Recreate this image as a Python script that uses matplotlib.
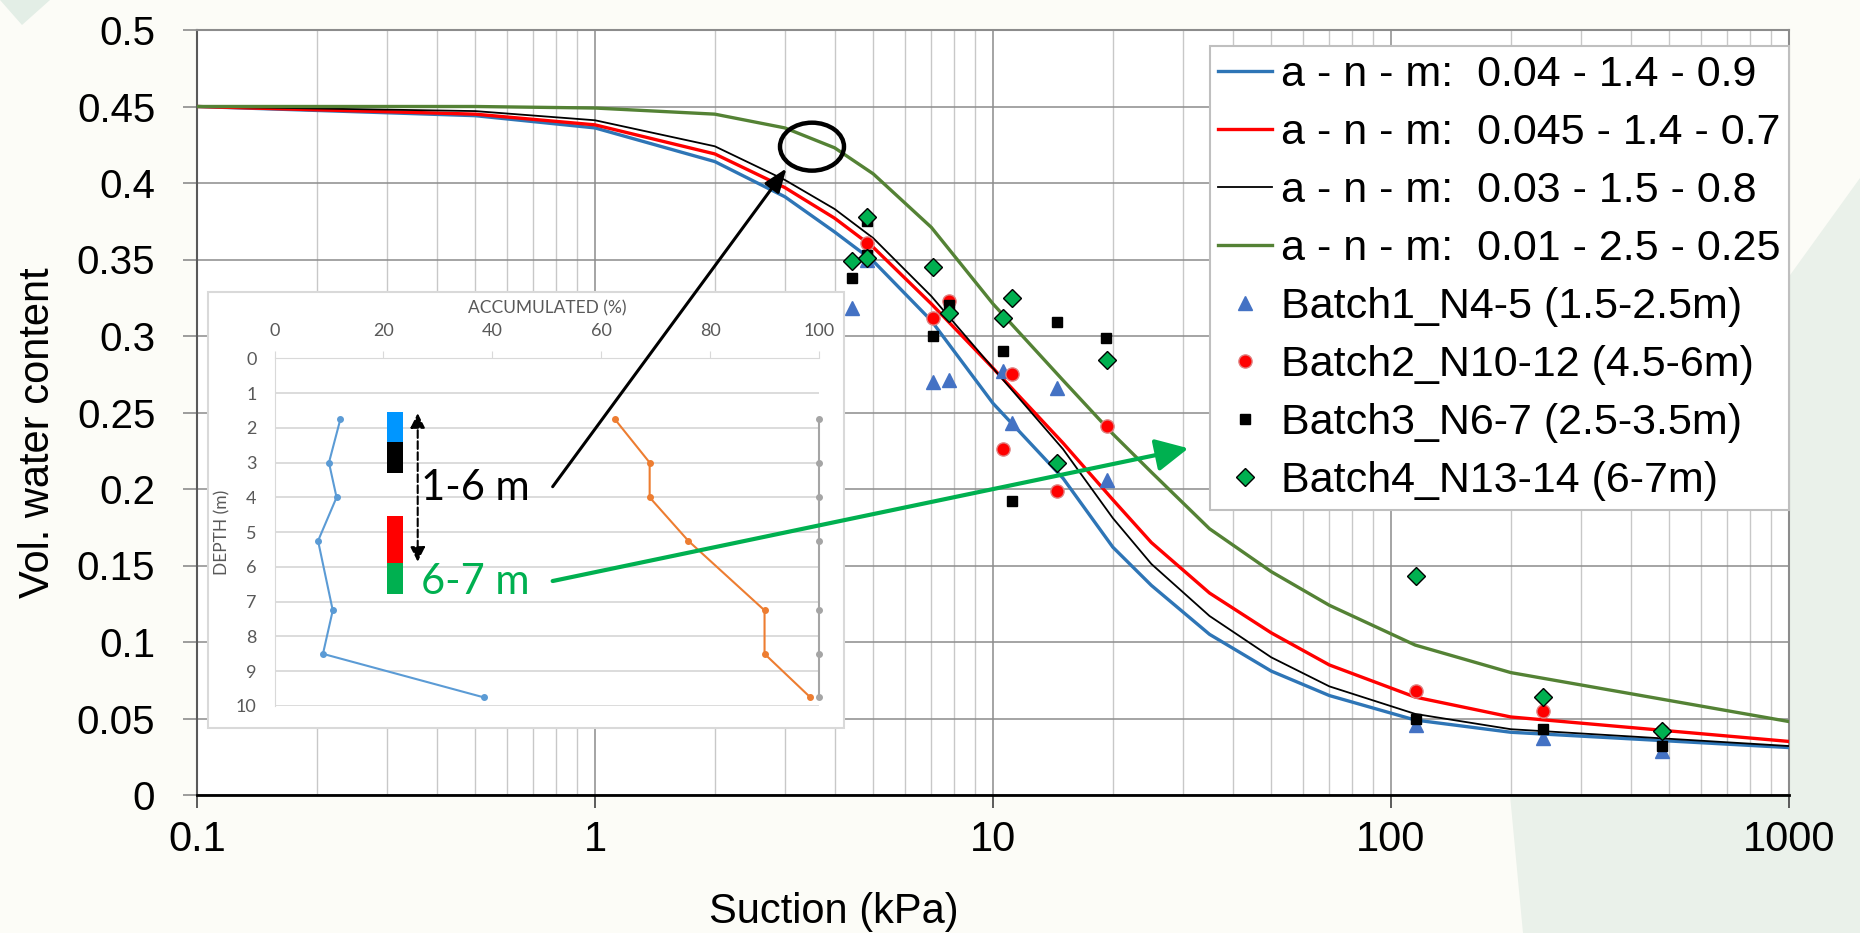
import matplotlib.pyplot as plt
from matplotlib.patches import Ellipse, FancyArrowPatch, Polygon, Rectangle
from matplotlib.ticker import FixedLocator, FixedFormatter, LogLocator, NullFormatter

plt.rcParams['font.family'] = ['Liberation Sans', 'DejaVu Sans']

# fitted retention curves
suction = [0.1, 0.5, 1, 2, 3, 4, 5, 7, 10, 15, 20, 25, 35, 50, 70, 115, 200, 1000]
fit_blue = [0.450, 0.444, 0.436, 0.414, 0.391, 0.368, 0.349, 0.310, 0.256, 0.207, 0.162,
            0.137, 0.105, 0.081, 0.065, 0.049, 0.041, 0.031]
fit_red = [0.450, 0.445, 0.438, 0.419, 0.397, 0.377, 0.358, 0.321, 0.279, 0.230, 0.193,
           0.165, 0.132, 0.106, 0.085, 0.064, 0.051, 0.035]
fit_black = [0.450, 0.447, 0.441, 0.424, 0.402, 0.383, 0.364, 0.326, 0.279, 0.226, 0.181,
             0.151, 0.117, 0.090, 0.071, 0.053, 0.043, 0.032]
fit_green = [0.450, 0.450, 0.449, 0.445, 0.436, 0.423, 0.406, 0.371, 0.321, 0.271, 0.236,
             0.211, 0.174, 0.146, 0.124, 0.098, 0.080, 0.048]
fit_labels = ['a - n - m:  0.04 - 1.4 - 0.9', 'a - n - m:  0.045 - 1.4 - 0.7',
              'a - n - m:  0.03 - 1.5 - 0.8', 'a - n - m:  0.01 - 2.5 - 0.25']

# measured points
b1_suction = [4.42, 4.82, 7.06, 7.74, 10.6, 11.15, 14.45, 19.3, 115.6, 240.5, 481]
b1_theta = [0.318, 0.350, 0.270, 0.271, 0.277, 0.243, 0.266, 0.206, 0.046, 0.037, 0.029]
b2_suction = [4.82, 7.06, 7.74, 10.6, 11.15, 14.45, 19.3, 115.6, 240.5, 481]
b2_theta = [0.361, 0.312, 0.323, 0.226, 0.275, 0.199, 0.241, 0.068, 0.055, 0.042]
b3_suction = [4.42, 4.82, 4.82, 7.06, 7.74, 10.6, 11.15, 14.5, 19.2, 115.6, 240.5, 481]
b3_theta = [0.338, 0.375, 0.353, 0.300, 0.320, 0.290, 0.192, 0.309, 0.299, 0.050, 0.043, 0.032]
b4_suction = [4.42, 4.82, 4.82, 7.06, 7.74, 10.6, 11.15, 14.45, 19.3, 115.6, 240.5, 481]
b4_theta = [0.349, 0.378, 0.351, 0.345, 0.315, 0.312, 0.325, 0.217, 0.284, 0.143, 0.064, 0.042]
batch_labels = ['Batch1_N4-5 (1.5-2.5m)', 'Batch2_N10-12 (4.5-6m)',
                'Batch3_N6-7 (2.5-3.5m)', 'Batch4_N13-14 (6-7m)']

x_ticks = [0.1, 1, 10, 100, 1000]
x_tick_labels = ['0.1', '1', '10', '100', '1000']
y_ticks = [0, 0.05, 0.1, 0.15, 0.2, 0.25, 0.3, 0.35, 0.4, 0.45, 0.5]
y_tick_labels = ['0', '0.05', '0.1', '0.15', '0.2', '0.25', '0.3', '0.35', '0.4', '0.45', '0.5']

# inset: grain size accumulation with depth
depth = [1.75, 3.0, 4.0, 5.25, 7.25, 8.5, 9.75]
acc_blue = [12.1, 10.0, 11.4, 8.0, 10.7, 8.9, 38.4]
acc_orange = [62.5, 68.9, 68.9, 76.0, 90.0, 90.0, 98.4]
acc_gray = [100, 100, 100, 100, 100, 100, 100]
layer_top = [1.54, 2.41, 4.53, 5.90]
layer_bottom = [2.41, 3.29, 5.90, 6.78]
layer_colors = ['#0096FF', '#000000', '#FF0000', '#00B050']

W, H = 1860, 933


def px(x, y):
    return (x / W, 1 - y / H)


fig = plt.figure(figsize=(18.6, 9.33), dpi=100, facecolor='#FCFCF7')

# faint decoration of the slide background
fig.add_artist(Polygon([px(1860, 178), px(1700, 400), px(1510, 795), px(1523, 933), px(1860, 933)],
                       closed=True, transform=fig.transFigure, fc='#EAF1EA', ec='none', zorder=-1))
fig.add_artist(Polygon([px(0, 0), px(50, 0), px(22, 25)], closed=True,
                       transform=fig.transFigure, fc='#E3EEE6', ec='none', zorder=-1))

ax = fig.add_axes([197 / W, 1 - 795 / H, 1592 / W, 765 / H])
ax.set_facecolor('white')

ax.plot(suction, fit_blue, color='#2E75B6', lw=2.4, label=fit_labels[0], zorder=3)
ax.plot(suction, fit_red, color='#FF0000', lw=2.4, label=fit_labels[1], zorder=3)
ax.plot(suction, fit_black, color='black', lw=1.3, label=fit_labels[2], zorder=3)
ax.plot(suction, fit_green, color='#548235', lw=2.4, label=fit_labels[3], zorder=3)

ax.plot(b1_suction, b1_theta, ls='none', marker='^', ms=10, color='#4472C4', label=batch_labels[0], zorder=4)
ax.plot(b2_suction, b2_theta, ls='none', marker='o', ms=9.5, mfc='#FF0000', mec='#E08080', mew=1,
        label=batch_labels[1], zorder=4)
ax.plot(b3_suction, b3_theta, ls='none', marker='s', ms=7.5, color='black', label=batch_labels[2], zorder=4)
ax.plot(b4_suction, b4_theta, ls='none', marker='D', ms=9.5, mfc='#00B050', mec='black', mew=1,
        label=batch_labels[3], zorder=4)

ax.set_xscale('log')
ax.set_xlim(0.1, 1000)
ax.set_ylim(0, 0.5)
ax.xaxis.set_major_locator(FixedLocator(x_ticks))
ax.xaxis.set_major_formatter(FixedFormatter(x_tick_labels))
ax.xaxis.set_minor_locator(LogLocator(base=10, subs=range(2, 10)))
ax.xaxis.set_minor_formatter(NullFormatter())
ax.set_yticks(y_ticks, y_tick_labels)
ax.grid(which='major', color='#8C8C8C', lw=1.1)
ax.grid(which='minor', axis='x', color='#C8C8C8', lw=1.0)
ax.set_axisbelow(True)
ax.tick_params(axis='x', which='major', length=9, width=1.2, color='#404040', pad=9, labelsize=30)
ax.tick_params(axis='x', which='minor', length=0)
ax.tick_params(axis='y', length=10, width=1.2, color='#8C8C8C', pad=20, labelsize=29)
for side in ['top', 'right']:
    ax.spines[side].set_color('#8C8C8C')
    ax.spines[side].set_linewidth(1.5)
ax.spines['left'].set_color('#595959')
ax.spines['left'].set_linewidth(1.5)
ax.spines['bottom'].set_color('black')
ax.spines['bottom'].set_linewidth(2)

ax.set_xlabel('Suction (kPa)', fontsize=30)
ax.xaxis.set_label_coords(0.40, -0.127)
ax.set_ylabel('Vol. water content', fontsize=30, va='center')
ax.yaxis.set_label_coords(-0.1, 0.473)

leg = ax.legend(loc='upper right', bbox_to_anchor=(1.0, 0.979), borderaxespad=0, fontsize=31,
                fancybox=False, framealpha=1, edgecolor='#BFBFBF', handlelength=1.25,
                handletextpad=0.2, labelspacing=0.42, borderpad=0.2)
leg.get_frame().set_linewidth(1.5)
leg.set_zorder(6)

ax.add_patch(Ellipse((0.3863, 0.8475), 0.0402, 0.0627, transform=ax.transAxes,
                     fill=False, ec='black', lw=3.2, zorder=6))

# inset panel
fig.add_artist(Rectangle(px(208, 728), 636 / W, 436 / H, transform=fig.transFigure,
                         fc='white', ec='#D9D9D9', lw=1.5, zorder=1))
ax_in = fig.add_axes([274.5 / W, 1 - 706 / H, 544.5 / W, 347.7 / H], zorder=2)
ax_in.set_facecolor('white')
ax_in.plot(acc_blue, depth, color='#5B9BD5', lw=1.5, marker='o', ms=4)
ax_in.plot(acc_orange, depth, color='#ED7D31', lw=1.5, marker='o', ms=4)
ax_in.plot(acc_gray, depth, color='#A5A5A5', lw=1.5, marker='o', ms=4, clip_on=False)
ax_in.bar([22.1] * len(layer_top), [b - t for t, b in zip(layer_top, layer_bottom)],
          bottom=layer_top, width=3.0, color=layer_colors, zorder=3)
ax_in.set_xlim(0, 100)
ax_in.set_ylim(10, 0)
ax_in.xaxis.tick_top()
ax_in.set_xticks(range(0, 101, 20), [str(v) for v in range(0, 101, 20)],
                 fontfamily='Lato', fontsize=13, color='#595959')
ax_in.set_yticks(range(0, 11), [str(v) for v in range(0, 11)],
                 fontfamily='Lato', fontsize=13, color='#595959')
ax_in.grid(axis='y', color='#D9D9D9', lw=1.3)
ax_in.set_axisbelow(True)
ax_in.tick_params(axis='x', length=5, color='#D9D9D9', pad=9)
ax_in.tick_params(axis='y', length=0, pad=13)
ax_in.spines['right'].set_visible(False)
ax_in.spines['bottom'].set_visible(False)
ax_in.spines['top'].set_color('#D9D9D9')
ax_in.spines['left'].set_color('#D9D9D9')
ax_in.set_xlabel('ACCUMULATED (%)', fontfamily='Lato', fontsize=12.5, color='#595959', va='center')
ax_in.xaxis.set_label_coords(0.5, 1.145)
ax_in.set_ylabel('DEPTH (m)', fontfamily='Lato', fontsize=12.5, color='#595959', va='center')
ax_in.yaxis.set_label_coords(-0.095, 0.5)

ax_in.annotate('', xy=(26.3, 1.58), xytext=(26.3, 5.85),
               arrowprops=dict(arrowstyle='<|-|>', ls='--', lw=1.5, color='black',
                               mutation_scale=22, shrinkA=0, shrinkB=0))
ax_in.text(26.9, 3.74, '1-6 m', fontfamily='Lato', fontsize=30, color='black', va='center', ha='left')
ax_in.text(26.9, 6.42, '6-7 m', fontfamily='Lato', fontsize=30, color='#00B050', va='center', ha='left')

# pointers from the inset to the curves
fig.add_artist(FancyArrowPatch((0.2234, 0.4030), (0.3703, 0.8192), transform=ax.transAxes,
                               arrowstyle='-|>,head_length=0.8,head_width=0.3', mutation_scale=18,
                               color='black', lw=2.2, shrinkA=0, shrinkB=0, zorder=10))
fig.add_artist(FancyArrowPatch((0.2234, 0.2797), (0.6227, 0.4532), transform=ax.transAxes,
                               arrowstyle='-|>,head_length=1.1,head_width=0.55', mutation_scale=18,
                               color='#00B050', lw=3, shrinkA=0, shrinkB=0, zorder=10))

fig.savefig('out.png', dpi=100, facecolor=fig.get_facecolor())
